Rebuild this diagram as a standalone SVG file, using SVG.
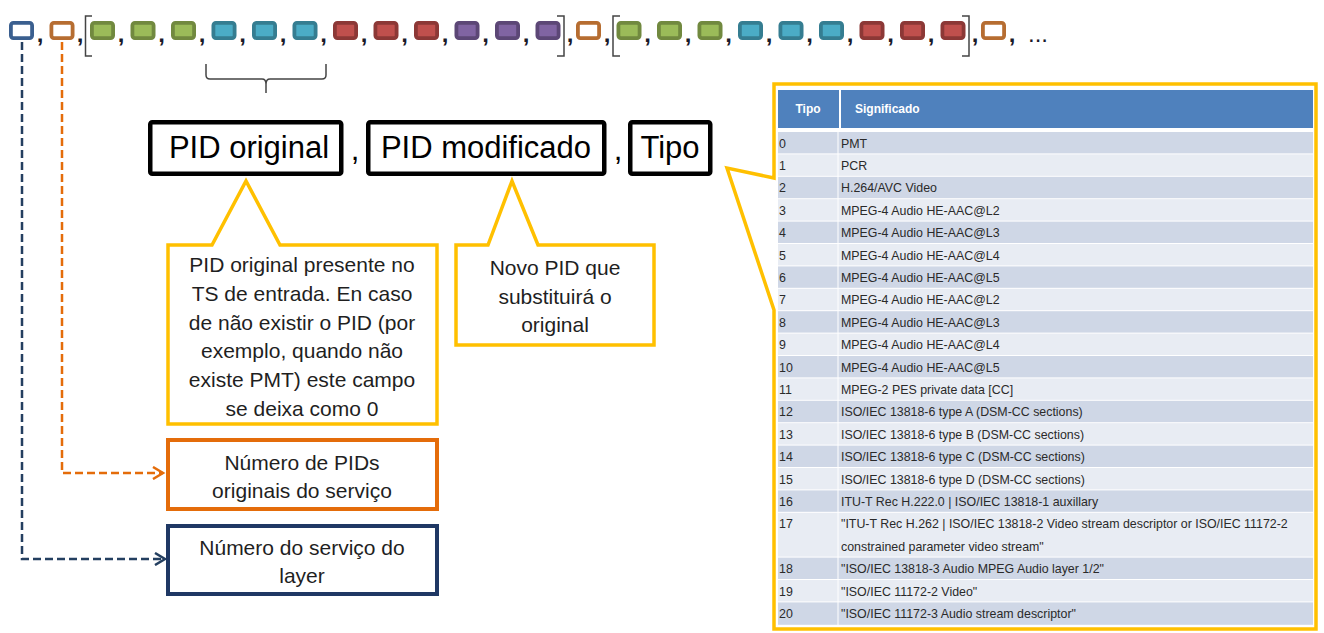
<svg xmlns="http://www.w3.org/2000/svg" width="1324" height="633" viewBox="0 0 1324 633">
<defs>
<style>
.sq{stroke-width:3.8}
.g{fill:#9BBB59;stroke:#71893F}
.c{fill:#4BACC6;stroke:#357D91}
.r{fill:#C0504D;stroke:#8C3836}
.p{fill:#8064A2;stroke:#5C4776}
.bw{fill:#fff;stroke:#3A5F8F}
.ow{fill:#fff;stroke:#B66D31}
.cm{font-family:"Liberation Sans",Arial,sans-serif;font-size:24px;font-weight:bold;fill:#1a1a2a;text-anchor:middle}
.br{fill:none;stroke:#444;stroke-width:1.5}
.big{font-family:"Liberation Sans",Arial,sans-serif;font-size:31px;fill:#000;text-anchor:middle}
.blk{fill:#fff;stroke:#000;stroke-width:4.5}
.yc{fill:#fff;stroke:#FFC000;stroke-width:3.5;stroke-linejoin:miter}
.t21{font-family:"Liberation Sans",Arial,sans-serif;font-size:21px;fill:#1F1F1F;text-anchor:middle}
.tb{font-family:"Liberation Sans",Arial,sans-serif;font-size:12.4px;fill:#2a2a2a}
.th{font-family:"Liberation Sans",Arial,sans-serif;font-size:12px;font-weight:bold;fill:#fff}
.ev{fill:#CFD7E6}
.od{fill:#E8ECF3}
</style>
<marker id="ao" markerUnits="userSpaceOnUse" markerWidth="14" markerHeight="14" refX="11" refY="7" orient="auto">
<path d="M1,1 L11,7 L1,13" fill="none" stroke="#E46C0A" stroke-width="2.5"/>
</marker>
<marker id="an" markerUnits="userSpaceOnUse" markerWidth="14" markerHeight="14" refX="11" refY="7" orient="auto">
<path d="M1,1 L11,7 L1,13" fill="none" stroke="#243F60" stroke-width="2.5"/>
</marker>
</defs>
<rect width="1324" height="633" fill="#fff"/>

<g id="connectors">
<path d="M62,42 V473 H163" fill="none" stroke="#E46C0A" stroke-width="2.5" stroke-dasharray="8 4" marker-end="url(#ao)"/>
<path d="M22,42 V559 H165" fill="none" stroke="#243F60" stroke-width="2.5" stroke-dasharray="8 4" marker-end="url(#an)"/>
</g>

<g id="sequence">
<rect class="sq bw" x="10.9" y="22.9" width="21.2" height="15.2" rx="2.5"/>
<rect class="sq ow" x="51.4" y="22.9" width="21.2" height="15.2" rx="2.5"/>
<rect class="sq g" x="91.9" y="22.9" width="21.2" height="15.2" rx="2.5"/>
<rect class="sq g" x="132.4" y="22.9" width="21.2" height="15.2" rx="2.5"/>
<rect class="sq g" x="172.9" y="22.9" width="21.2" height="15.2" rx="2.5"/>
<rect class="sq c" x="213.4" y="22.9" width="21.2" height="15.2" rx="2.5"/>
<rect class="sq c" x="253.9" y="22.9" width="21.2" height="15.2" rx="2.5"/>
<rect class="sq c" x="294.4" y="22.9" width="21.2" height="15.2" rx="2.5"/>
<rect class="sq r" x="334.9" y="22.9" width="21.2" height="15.2" rx="2.5"/>
<rect class="sq r" x="375.4" y="22.9" width="21.2" height="15.2" rx="2.5"/>
<rect class="sq r" x="415.9" y="22.9" width="21.2" height="15.2" rx="2.5"/>
<rect class="sq p" x="456.4" y="22.9" width="21.2" height="15.2" rx="2.5"/>
<rect class="sq p" x="496.9" y="22.9" width="21.2" height="15.2" rx="2.5"/>
<rect class="sq p" x="537.4" y="22.9" width="21.2" height="15.2" rx="2.5"/>
<rect class="sq ow" x="577.9" y="22.9" width="21.2" height="15.2" rx="2.5"/>
<rect class="sq g" x="618.4" y="22.9" width="21.2" height="15.2" rx="2.5"/>
<rect class="sq g" x="658.9" y="22.9" width="21.2" height="15.2" rx="2.5"/>
<rect class="sq g" x="699.4" y="22.9" width="21.2" height="15.2" rx="2.5"/>
<rect class="sq c" x="739.9" y="22.9" width="21.2" height="15.2" rx="2.5"/>
<rect class="sq c" x="780.4" y="22.9" width="21.2" height="15.2" rx="2.5"/>
<rect class="sq c" x="820.9" y="22.9" width="21.2" height="15.2" rx="2.5"/>
<rect class="sq r" x="861.4" y="22.9" width="21.2" height="15.2" rx="2.5"/>
<rect class="sq r" x="901.9" y="22.9" width="21.2" height="15.2" rx="2.5"/>
<rect class="sq r" x="942.4" y="22.9" width="21.2" height="15.2" rx="2.5"/>
<rect class="sq ow" x="982.9" y="22.9" width="21.2" height="15.2" rx="2.5"/>
<text class="cm" x="40" y="42">,</text>
<text class="cm" x="80" y="42">,</text>
<text class="cm" x="121" y="42">,</text>
<text class="cm" x="161.5" y="42">,</text>
<text class="cm" x="202" y="42">,</text>
<text class="cm" x="242.5" y="42">,</text>
<text class="cm" x="283" y="42">,</text>
<text class="cm" x="323.5" y="42">,</text>
<text class="cm" x="364" y="42">,</text>
<text class="cm" x="404.5" y="42">,</text>
<text class="cm" x="445" y="42">,</text>
<text class="cm" x="485.5" y="42">,</text>
<text class="cm" x="526" y="42">,</text>
<text class="cm" x="570" y="42">,</text>
<text class="cm" x="607" y="42">,</text>
<text class="cm" x="647.5" y="42">,</text>
<text class="cm" x="688" y="42">,</text>
<text class="cm" x="728.5" y="42">,</text>
<text class="cm" x="769" y="42">,</text>
<text class="cm" x="809.5" y="42">,</text>
<text class="cm" x="850" y="42">,</text>
<text class="cm" x="890.5" y="42">,</text>
<text class="cm" x="931" y="42">,</text>
<text class="cm" x="975" y="42">,</text>
<text class="cm" x="1012" y="42">,</text>
<text class="cm" x="1038" y="42" style="font-weight:normal">...</text>
<path class="br" d="M92,16 H85.5 V56 H92"/>
<path class="br" d="M557,16 H564 V56 H557"/>
<path class="br" d="M620,16 H613 V56 H620"/>
<path class="br" d="M962,16 H969 V56 H962"/>
<path class="br" d="M206,64 V75 Q206,79 210,79 H262 Q266,79 266,84 V93 M266,84 Q266,79 270,79 H322 Q326,79 326,75 V64"/>
</g>

<g id="pid-original">
<rect class="blk" x="150.25" y="122.25" width="191" height="51.5" rx="2"/>
<text class="big" x="249" y="158">PID original</text>
</g>
<text class="big" x="355" y="160">,</text>
<g id="pid-modificado">
<rect class="blk" x="368.25" y="122.25" width="236" height="51.5" rx="2"/>
<text class="big" x="486" y="158">PID modificado</text>
</g>
<text class="big" x="618" y="160">,</text>
<g id="tipo">
<rect class="blk" x="630.25" y="122.25" width="80" height="51.5" rx="2"/>
<text class="big" x="670" y="158">Tipo</text>
</g>

<g id="callout-original">
<path class="yc" d="M168,245 H212 L246,181 L280,245 H437 V424 H168 Z"/>
<text class="t21" x="302" y="272">PID original presente no</text>
<text class="t21" x="302" y="300.8">TS de entrada. En caso</text>
<text class="t21" x="302" y="329.6">de não existir o PID (por</text>
<text class="t21" x="302" y="358.4">exemplo, quando não</text>
<text class="t21" x="302" y="387.2">existe PMT) este campo</text>
<text class="t21" x="302" y="416">se deixa como 0</text>
</g>

<g id="callout-modificado">
<path class="yc" d="M456,245 H488 L512,181 L538,245 H654 V345 H456 Z"/>
<text class="t21" x="555" y="275">Novo PID que</text>
<text class="t21" x="555" y="303.6">substituirá o</text>
<text class="t21" x="555" y="332.2">original</text>
</g>

<g id="num-pids">
<rect x="168" y="440" width="269" height="69" fill="#fff" stroke="#E46C0A" stroke-width="4"/>
<text class="t21" x="302" y="470">Número de PIDs</text>
<text class="t21" x="302" y="498">originais do serviço</text>
</g>

<g id="num-servico">
<rect x="168" y="526" width="269" height="68" fill="#fff" stroke="#1F3864" stroke-width="4"/>
<text class="t21" x="302" y="555">Número do serviço do</text>
<text class="t21" x="302" y="583">layer</text>
</g>

<g id="tipo-table">
<path class="yc" stroke-width="3" d="M774,84 H1316 V629 H774 V310 L727,168 L774,178 Z"/>
<rect x="778" y="90" width="535" height="38" fill="#4F81BD"/>
<line x1="840" y1="90" x2="840" y2="128" stroke="#fff" stroke-width="2"/>
<text class="th" x="808" y="113" text-anchor="middle">Tipo</text>
<text class="th" x="855" y="113">Significado</text>
<rect class="ev" x="778" y="132" width="535" height="21.4"/>
<rect class="od" x="778" y="154.4" width="535" height="21.4"/>
<rect class="ev" x="778" y="176.8" width="535" height="21.4"/>
<rect class="od" x="778" y="199.2" width="535" height="21.4"/>
<rect class="ev" x="778" y="221.6" width="535" height="21.4"/>
<rect class="od" x="778" y="244" width="535" height="21.4"/>
<rect class="ev" x="778" y="266.4" width="535" height="21.4"/>
<rect class="od" x="778" y="288.8" width="535" height="21.4"/>
<rect class="ev" x="778" y="311.2" width="535" height="21.4"/>
<rect class="od" x="778" y="333.6" width="535" height="21.4"/>
<rect class="ev" x="778" y="356" width="535" height="21.4"/>
<rect class="od" x="778" y="378.4" width="535" height="21.4"/>
<rect class="ev" x="778" y="400.8" width="535" height="21.4"/>
<rect class="od" x="778" y="423.2" width="535" height="21.4"/>
<rect class="ev" x="778" y="445.6" width="535" height="21.4"/>
<rect class="od" x="778" y="468" width="535" height="21.4"/>
<rect class="ev" x="778" y="490.4" width="535" height="21.4"/>
<rect class="od" x="778" y="512.8" width="535" height="43.8"/>
<rect class="ev" x="778" y="557.6" width="535" height="21.4"/>
<rect class="od" x="778" y="580" width="535" height="21.4"/>
<rect class="ev" x="778" y="602.4" width="535" height="22.4"/>
<line x1="838" y1="132" x2="838" y2="625" stroke="#fff" stroke-width="1"/>
<g class="tb">
<text x="779" y="147.5">0</text><text x="841" y="147.5">PMT</text>
<text x="779" y="169.9">1</text><text x="841" y="169.9">PCR</text>
<text x="779" y="192.3">2</text><text x="841" y="192.3">H.264/AVC Video</text>
<text x="779" y="214.7">3</text><text x="841" y="214.7">MPEG-4 Audio HE-AAC@L2</text>
<text x="779" y="237.1">4</text><text x="841" y="237.1">MPEG-4 Audio HE-AAC@L3</text>
<text x="779" y="259.5">5</text><text x="841" y="259.5">MPEG-4 Audio HE-AAC@L4</text>
<text x="779" y="281.9">6</text><text x="841" y="281.9">MPEG-4 Audio HE-AAC@L5</text>
<text x="779" y="304.3">7</text><text x="841" y="304.3">MPEG-4 Audio HE-AAC@L2</text>
<text x="779" y="326.7">8</text><text x="841" y="326.7">MPEG-4 Audio HE-AAC@L3</text>
<text x="779" y="349.1">9</text><text x="841" y="349.1">MPEG-4 Audio HE-AAC@L4</text>
<text x="779" y="371.5">10</text><text x="841" y="371.5">MPEG-4 Audio HE-AAC@L5</text>
<text x="779" y="393.9">11</text><text x="841" y="393.9">MPEG-2 PES private data [CC]</text>
<text x="779" y="416.3">12</text><text x="841" y="416.3">ISO/IEC 13818-6 type A (DSM-CC sections)</text>
<text x="779" y="438.7">13</text><text x="841" y="438.7">ISO/IEC 13818-6 type B (DSM-CC sections)</text>
<text x="779" y="461.1">14</text><text x="841" y="461.1">ISO/IEC 13818-6 type C (DSM-CC sections)</text>
<text x="779" y="483.5">15</text><text x="841" y="483.5">ISO/IEC 13818-6 type D (DSM-CC sections)</text>
<text x="779" y="505.9">16</text><text x="841" y="505.9">ITU-T Rec H.222.0 | ISO/IEC 13818-1 auxillary</text>
<text x="779" y="528.3">17</text><text x="841" y="528.3">"ITU-T Rec H.262 | ISO/IEC 13818-2 Video stream descriptor or ISO/IEC 11172-2</text>
<text x="841" y="550.7">constrained parameter video stream"</text>
<text x="779" y="573.1">18</text><text x="841" y="573.1">"ISO/IEC 13818-3 Audio MPEG Audio layer 1/2"</text>
<text x="779" y="595.5">19</text><text x="841" y="595.5">"ISO/IEC 11172-2 Video"</text>
<text x="779" y="617.9">20</text><text x="841" y="617.9">"ISO/IEC 11172-3 Audio stream descriptor"</text>
</g>
</g>
</svg>
